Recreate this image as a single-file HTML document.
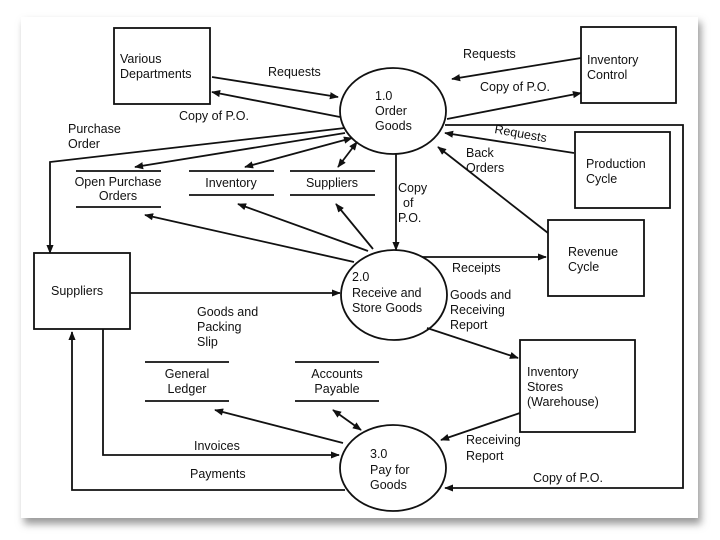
<!DOCTYPE html>
<html><head><meta charset="utf-8"><style>
html,body{margin:0;padding:0;background:#f4f4f4;}
svg{display:block;}
text{font-family:"Liberation Sans",sans-serif;font-size:12.5px;fill:#111;}
</style></head><body>
<svg width="720" height="540" viewBox="0 0 720 540" xmlns="http://www.w3.org/2000/svg">
<defs>
<filter id="sh" x="-5%" y="-5%" width="110%" height="112%"><feGaussianBlur stdDeviation="4"/></filter>
<marker id="a" viewBox="0 0 10 10" refX="9" refY="5" markerWidth="9" markerHeight="9" orient="auto-start-reverse" markerUnits="userSpaceOnUse"><path d="M0,1 L10,5 L0,9 z" fill="#111"/></marker>
</defs>
<rect x="0" y="0" width="720" height="540" fill="#fff"/>
<rect x="24" y="22" width="677" height="502" fill="#999" filter="url(#sh)"/>
<rect x="21" y="17" width="677" height="501" fill="#fff"/>
<g stroke="#111" stroke-width="1.8" fill="none">
<rect x="114" y="28" width="96" height="76"/>
<rect x="581" y="27" width="95" height="76"/>
<rect x="575" y="132" width="95" height="76"/>
<rect x="548" y="220" width="96" height="76"/>
<rect x="34" y="253" width="96" height="76"/>
<rect x="520" y="340" width="115" height="92"/>
<ellipse cx="393" cy="111" rx="53" ry="43"/>
<ellipse cx="394" cy="295" rx="53" ry="45"/>
<ellipse cx="393" cy="468" rx="53" ry="43"/>
<!-- data stores -->
<line x1="76" y1="171" x2="161" y2="171"/><line x1="76" y1="207" x2="161" y2="207"/>
<line x1="189" y1="171" x2="274" y2="171"/><line x1="189" y1="195" x2="274" y2="195"/>
<line x1="290" y1="171" x2="375" y2="171"/><line x1="290" y1="195" x2="375" y2="195"/>
<line x1="145" y1="362" x2="229" y2="362"/><line x1="145" y1="401" x2="229" y2="401"/>
<line x1="295" y1="362" x2="379" y2="362"/><line x1="295" y1="401" x2="379" y2="401"/>
<!-- connectors -->
<line x1="212" y1="77" x2="338" y2="97" marker-end="url(#a)"/>
<line x1="340" y1="117" x2="212" y2="92" marker-end="url(#a)"/>
<line x1="581" y1="58" x2="452" y2="79" marker-end="url(#a)"/>
<line x1="447" y1="119" x2="581" y2="93" marker-end="url(#a)"/>
<polyline points="345,128 50,162 50,253" marker-end="url(#a)"/>
<line x1="345" y1="133" x2="135" y2="167" marker-end="url(#a)"/>
<line x1="352" y1="138" x2="245" y2="167" marker-start="url(#a)" marker-end="url(#a)"/>
<line x1="357" y1="142" x2="338" y2="167" marker-start="url(#a)" marker-end="url(#a)"/>
<line x1="396" y1="154" x2="396" y2="250" marker-end="url(#a)"/>
<line x1="574" y1="153" x2="445" y2="133" marker-end="url(#a)"/>
<line x1="548" y1="233" x2="438" y2="147" marker-end="url(#a)"/>
<line x1="354" y1="262" x2="145" y2="215" marker-end="url(#a)"/>
<line x1="368" y1="251" x2="238" y2="204" marker-end="url(#a)"/>
<line x1="373" y1="249" x2="336" y2="204" marker-end="url(#a)"/>
<line x1="422" y1="257" x2="546" y2="257" marker-end="url(#a)"/>
<line x1="130" y1="293" x2="340" y2="293" marker-end="url(#a)"/>
<line x1="427" y1="328" x2="518" y2="358" marker-end="url(#a)"/>
<line x1="520" y1="413" x2="441" y2="440" marker-end="url(#a)"/>
<line x1="343" y1="443" x2="215" y2="410" marker-end="url(#a)"/>
<line x1="361" y1="430" x2="333" y2="410" marker-start="url(#a)" marker-end="url(#a)"/>
<polyline points="103,329 103,455 339,455" marker-end="url(#a)"/>
<polyline points="345,490 72,490 72,332" marker-end="url(#a)"/>
<polyline points="445,125 683,125 683,488 445,488" marker-end="url(#a)"/>
</g>
<text x="120" y="63">Various</text><text x="120" y="78">Departments</text>
<text x="587" y="64">Inventory</text><text x="587" y="79">Control</text>
<text x="586" y="168">Production</text><text x="586" y="183">Cycle</text>
<text x="568" y="256">Revenue</text><text x="568" y="271">Cycle</text>
<text x="51" y="295">Suppliers</text>
<text x="527" y="376">Inventory</text><text x="527" y="391">Stores</text><text x="527" y="406">(Warehouse)</text>
<text x="375" y="100">1.0</text><text x="375" y="115">Order</text><text x="375" y="130">Goods</text>
<text x="352" y="281">2.0</text><text x="352" y="297">Receive and</text><text x="352" y="312">Store Goods</text>
<text x="370" y="458">3.0</text><text x="370" y="474">Pay for</text><text x="370" y="489">Goods</text>
<text x="118" y="186" text-anchor="middle">Open Purchase</text><text x="118" y="200" text-anchor="middle">Orders</text>
<text x="231" y="187" text-anchor="middle">Inventory</text>
<text x="332" y="187" text-anchor="middle">Suppliers</text>
<text x="187" y="378" text-anchor="middle">General</text><text x="187" y="393" text-anchor="middle">Ledger</text>
<text x="337" y="378" text-anchor="middle">Accounts</text><text x="337" y="393" text-anchor="middle">Payable</text>
<text x="268" y="76">Requests</text>
<text x="179" y="120">Copy of P.O.</text>
<text x="463" y="58">Requests</text>
<text x="480" y="91">Copy of P.O.</text>
<text x="68" y="133">Purchase</text><text x="68" y="148">Order</text>
<text x="494" y="133" transform="rotate(10 494 133)">Requests</text>
<text x="466" y="157">Back</text><text x="466" y="172">Orders</text>
<text x="398" y="192">Copy</text><text x="403" y="207">of</text><text x="398" y="222">P.O.</text>
<text x="452" y="272">Receipts</text>
<text x="450" y="299">Goods and</text><text x="450" y="314">Receiving</text><text x="450" y="329">Report</text>
<text x="197" y="316">Goods and</text><text x="197" y="331">Packing</text><text x="197" y="346">Slip</text>
<text x="466" y="444">Receiving</text><text x="466" y="460">Report</text>
<text x="194" y="450">Invoices</text>
<text x="190" y="478">Payments</text>
<text x="533" y="482">Copy of P.O.</text>
</svg>
</body></html>
